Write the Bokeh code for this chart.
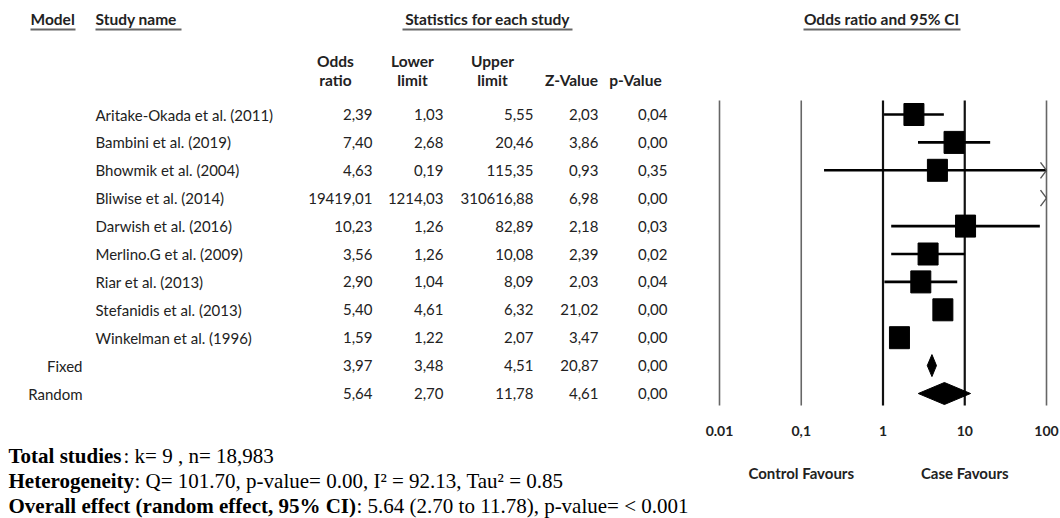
import math
from bokeh.plotting import figure
from bokeh.models import Range1d, LogScale
from bokeh.core.properties import value
from bokeh.embed import file_html
from bokeh.resources import INLINE

# ---------------- data ----------------
studies = ["Aritake-Okada et al. (2011)", "Bambini et al. (2019)", "Bhowmik et al. (2004)",
           "Bliwise et al. (2014)", "Darwish et al. (2016)", "Merlino.G et al. (2009)",
           "Riar et al. (2013)", "Stefanidis et al. (2013)", "Winkelman et al. (1996)"]
odds_ratio = [2.39, 7.40, 4.63, 19419.01, 10.23, 3.56, 2.90, 5.40, 1.59]
lower_limit = [1.03, 2.68, 0.19, 1214.03, 1.26, 1.26, 1.04, 4.61, 1.22]
upper_limit = [5.55, 20.46, 115.35, 310616.88, 82.89, 10.08, 8.09, 6.32, 2.07]
z_value = [2.03, 3.86, 0.93, 6.98, 2.18, 2.39, 2.03, 21.02, 3.47]
p_value = [0.04, 0.00, 0.35, 0.00, 0.03, 0.02, 0.04, 0.00, 0.00]

models = ["Fixed", "Random"]
model_or = [3.97, 5.64]
model_lower = [3.48, 2.70]
model_upper = [4.51, 11.78]
model_z = [20.87, 4.61]
model_p = [0.00, 0.00]

tick_values = [0.01, 0.1, 1, 10, 100]
tick_labels = ["0.01", "0,1", "1", "10", "100"]

col_head_1 = ["Odds", "Lower", "Upper", "", ""]
col_head_2 = ["ratio", "limit", "limit", "Z-Value", "p-Value"]

summary_bold = ["Total studies", "Heterogeneity", "Overall effect (random effect, 95% CI)"]
summary_rest = [": k= 9 , n= 18,983",
                ": Q= 101.70, p-value= 0.00, I\u00b2 = 92.13, Tau\u00b2 = 0.85",
                ": 5.64 (2.70 to 11.78), p-value= < 0.001"]

# ---------------- layout / styles ----------------
SANS = value("Lato")
SERIF = value("Liberation Serif")
W, H = 1060, 518
row0, row_step = 114.0, 27.9
px_dec = 81.75          # pixels per decade on the forest scale
x_at_001 = 719.0        # pixel position of OR = 0.01
fmin, fmax = 0.01, 100.0

def fmt(v):
    return f"{v:.2f}".replace(".", ",")

p = figure(width=W, height=H, x_range=Range1d(0, W), y_range=Range1d(H, 0),
           output_backend="svg", toolbar_location=None, min_border=0,
           x_axis_location=None, y_axis_location=None)
p.grid.visible = False
p.outline_line_color = None
p.background_fill_color = "white"
p.border_fill_color = "white"

lo_exp = -2 - x_at_001 / px_dec
hi_exp = -2 + (W - x_at_001) / px_dec
p.extra_x_ranges = {"or": Range1d(10 ** lo_exp, 10 ** hi_exp)}
p.extra_x_scales = {"or": LogScale()}

n = len(studies)
rows = [row0 + row_step * i for i in range(n + len(models))]
study_rows = rows[:n]
model_rows = rows[n:]

# ---------------- headers ----------------
hdr = dict(text_font=SANS, text_font_style="bold", text_font_size="15.5px",
           text_color="#222222", text_baseline="middle")
p.text(x=[30, 95], y=[18, 18], text=["Model", "Study name"], text_align="left", **hdr)
p.text(x=[487], y=[18], text=["Statistics for each study"], text_align="center", **hdr)
p.text(x=[881], y=[18], text=["Odds ratio and 95% CI"], text_align="center", **hdr)
p.segment(x0=[30, 95, 402, 803], y0=[29] * 4, x1=[75, 181, 572, 960], y1=[29] * 4,
          line_color="#666666", line_width=2)

col_centers = [335, 412, 492, 571, 635]
p.text(x=col_centers, y=[60] * 5, text=col_head_1, text_align="center", **hdr)
p.text(x=col_centers, y=[79] * 5, text=col_head_2, text_align="center", **hdr)

# ---------------- table ----------------
body = dict(text_font=SANS, text_font_size="15px", text_color="#222222", text_baseline="middle")
p.text(x=[95] * n, y=study_rows, text=studies, text_align="left", **body)
p.text(x=[82] * len(models), y=model_rows, text=models, text_align="right", **body)

col_right = [372, 443, 533, 598, 667]
cols = [odds_ratio + model_or, lower_limit + model_lower, upper_limit + model_upper,
        z_value + model_z, p_value + model_p]
for xr, vals in zip(col_right, cols):
    p.text(x=[xr] * len(vals), y=rows, text=[fmt(v) for v in vals], text_align="right", **body)

# ---------------- forest plot ----------------
line_top, line_bot = 100, 405
ref_colors = ["#666666", "#666666", "#111111", "#111111", "#666666"]
ref_widths = [1.6, 1.6, 2.2, 2.2, 1.6]
p.segment(x0=tick_values, x1=tick_values, y0=[line_top] * 5, y1=[line_bot] * 5,
          line_color=ref_colors, line_width=ref_widths, x_range_name="or")

# CI lines (clipped to the plotted range, with an open chevron when cut at 100)
seg = dict(x0=[], x1=[], y=[])
chev_x, chev_y = [], []
arm = 10 ** (-6 / px_dec)
for lo, hi, y in zip(lower_limit, upper_limit, study_rows):
    if lo < fmax:
        seg["x0"].append(max(lo, fmin))
        seg["x1"].append(min(hi, fmax))
        seg["y"].append(y)
    if hi > fmax:
        chev_x.append([fmax * arm, fmax, fmax * arm])
        chev_y.append([y - 8, y, y + 8])
p.segment(x0=seg["x0"], x1=seg["x1"], y0=seg["y"], y1=seg["y"],
          line_color="black", line_width=2.6, x_range_name="or")
p.multi_line(xs=chev_x, ys=chev_y, line_color="#555555", line_width=1.4, x_range_name="or")

# boxes
bx = [o for o in odds_ratio if fmin <= o <= fmax]
by = [y for o, y in zip(odds_ratio, study_rows) if fmin <= o <= fmax]
p.rect(x=bx, y=by, width=20, height=22, width_units="screen", height_units="screen",
       fill_color="black", line_color="black", x_range_name="or")

# diamonds
dxs, dys = [], []
for o, lo, hi, y in zip(model_or, model_lower, model_upper, model_rows):
    dxs.append([lo, o, hi, o])
    dys.append([y, y - 11, y, y + 11])
p.patches(xs=dxs, ys=dys, fill_color="black", line_color="black", x_range_name="or")

# tick labels and favours
p.text(x=tick_values, y=[430] * 5, text=tick_labels, text_align="center",
       text_font=SANS, text_font_style="bold", text_font_size="14px",
       text_color="#222222", text_baseline="middle", x_range_name="or")
p.text(x=[0.1, 10], y=[472, 472], text=["Control Favours", "Case Favours"], text_align="center",
       text_font=SANS, text_font_style="bold", text_font_size="15px",
       text_color="#222222", text_baseline="middle", x_range_name="or")

# ---------------- summary ----------------
sum_y = [455, 480, 505]
rest_x = [123, 134, 356]
p.text(x=[8] * 3, y=sum_y, text=summary_bold, text_align="left", text_baseline="middle",
       text_font=SERIF, text_font_style="bold", text_font_size="21px", text_color="black")
p.text(x=rest_x, y=sum_y, text=summary_rest, text_align="left", text_baseline="middle",
       text_font=SERIF, text_font_size="21px", text_color="black")

open("out.html", "w").write(file_html(p, INLINE))
